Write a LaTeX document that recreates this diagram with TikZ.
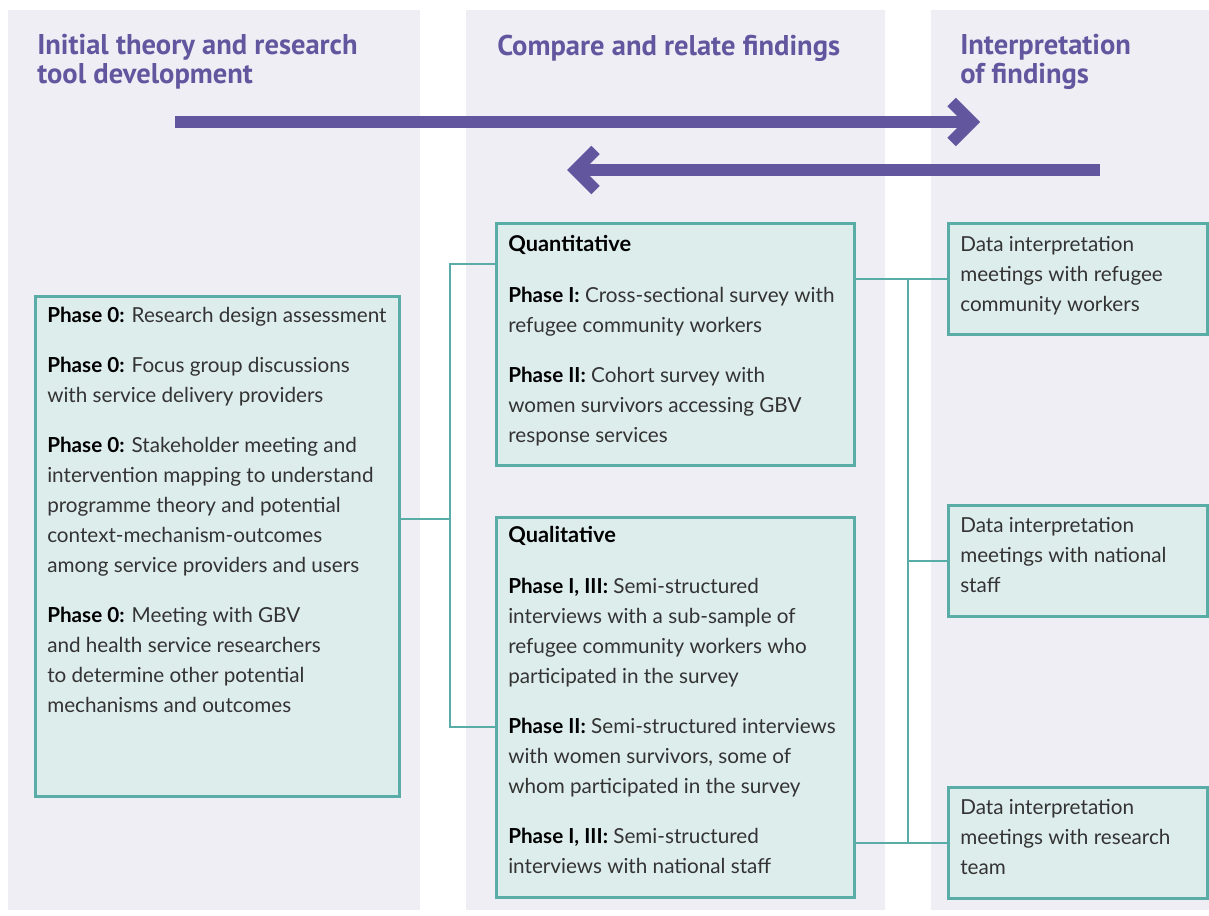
\documentclass[tikz,border=0pt]{standalone}
\usepackage{fontspec}
\setmainfont{Lato}
\newfontfamily\headfont{PT Sans}
\usepackage{xcolor}
\usetikzlibrary{arrows.meta,positioning}
\definecolor{hdpurple}{HTML}{62579F}
\definecolor{boxteal}{HTML}{5AADA7}
\definecolor{boxfill}{HTML}{DDEDEB}
\definecolor{colbg}{HTML}{EFEEF4}
\definecolor{bodytext}{HTML}{333333}
\newcommand{\phaselabel}[1]{\textbf{\color{black}#1}}

\begin{document}
\begin{tikzpicture}[
  x=0.025cm, y=-0.025cm,
  column/.style={fill=colbg, draw=none},
  box/.style={draw=boxteal, fill=boxfill, line width=1.8pt, anchor=north west, inner sep=0pt},
  body/.style={anchor=base west, align=left, inner sep=0pt, text=bodytext, font=\fontsize{14.7}{21.3}\selectfont},
  head/.style={anchor=base west, align=left, inner sep=0pt, text=hdpurple, font=\headfont\bfseries\fontsize{20.3}{20}\selectfont},
  link/.style={draw=boxteal, line width=1.5pt},
  bigarrow/.style={draw=hdpurple, line width=0.3cm, -{Straight Barb[sharp, length=0.5cm, width=1.0cm]}}
]
\useasboundingbox (0,0) rectangle (1209,915);

% background columns
\fill[column] (8,10) rectangle (420,910);
\fill[column] (466,10) rectangle (885,910);
\fill[column] (931,10) rectangle (1209,910);

% column headings (base = last line)
\node[head] (h1) at (37,83) {Initial theory and research\\tool development};
\node[head] (h2) at (497,55) {Compare and relate findings};
\node[head] (h3) at (960,83) {Interpretation\\of findings};

% arrows between the stages
\coordinate (fwdA) at (175,122);
\coordinate (fwdB) at (980,122);
\coordinate (bckA) at (1100,170);
\coordinate (bckB) at (567,170);
\draw[bigarrow] (fwdA) -- (fwdB);
\draw[bigarrow] (bckA) -- (bckB);

% boxes
\node[box, minimum width=9.1cm, minimum height=12.5cm] (phase0) at (34,295) {};
\node[box, minimum width=8.95cm, minimum height=6.05cm] (quant) at (495,222) {};
\node[box, minimum width=8.95cm, minimum height=9.5cm] (qual) at (495,516) {};
\node[box, minimum width=6.475cm, minimum height=2.775cm] (meet1) at (947,222) {};
\node[box, minimum width=6.475cm, minimum height=2.775cm] (meet2) at (947,504) {};
\node[box, minimum width=6.475cm, minimum height=2.775cm] (meet3) at (947,786) {};

% box texts (base = last line)
\node[body] (phase0txt) at (47,712) {\phaselabel{Phase 0:} Research design assessment\\[14.2pt]
\phaselabel{Phase 0:} Focus group discussions\\
with service delivery providers\\[14.2pt]
\phaselabel{Phase 0:} Stakeholder meeting and\\
intervention mapping to understand\\
programme theory and potential\\
context-mechanism-outcomes\\
among service providers and users\\[14.2pt]
\phaselabel{Phase 0:} Meeting with GBV\\
and health service researchers\\
to determine other potential\\
mechanisms and outcomes};

\node[body] (quanttxt) at (508,442) {\phaselabel{\fontsize{15.5}{21.3}\selectfont Quantitative}\\[15pt]
\phaselabel{Phase I:} Cross-sectional survey with\\
refugee community workers\\[14.2pt]
\phaselabel{Phase II:} Cohort survey with\\
women survivors accessing GBV\\
response services};

\node[body] (qualtxt) at (508,873) {\phaselabel{\fontsize{15.5}{21.3}\selectfont Qualitative}\\[15pt]
\phaselabel{Phase I, III:} Semi-structured\\
interviews with a sub-sample of\\
refugee community workers who\\
participated in the survey\\[14.2pt]
\phaselabel{Phase II:} Semi-structured interviews\\
with women survivors, some of\\
whom participated in the survey\\[14.2pt]
\phaselabel{Phase I, III:} Semi-structured\\
interviews with national staff};

\node[body] (meet1txt) at (960,311) {Data interpretation\\meetings with refugee\\community workers};
\node[body] (meet2txt) at (960,592) {Data interpretation\\meetings with national\\staff};
\node[body] (meet3txt) at (960,874) {Data interpretation\\meetings with research\\team};

% connectors
\coordinate (lj) at (450,519);
\coordinate (lt) at (450,264);
\coordinate (lb) at (450,727);
\coordinate (rj) at (908,555);
\draw[link] (phase0.east |- lj) -- (lj);
\draw[link] (quant.west |- lt) -- (lt) -- (lb) -- (qual.west |- lb);
\draw[link] (quant.east |- meet1) -- (meet1.west);
\draw[link] (qual.east |- meet3) -- (meet3.west);
\draw[link] (rj |- meet1) -- (rj |- meet3);
\draw[link] (rj |- meet2) -- (meet2.west);
\end{tikzpicture}
\end{document}
